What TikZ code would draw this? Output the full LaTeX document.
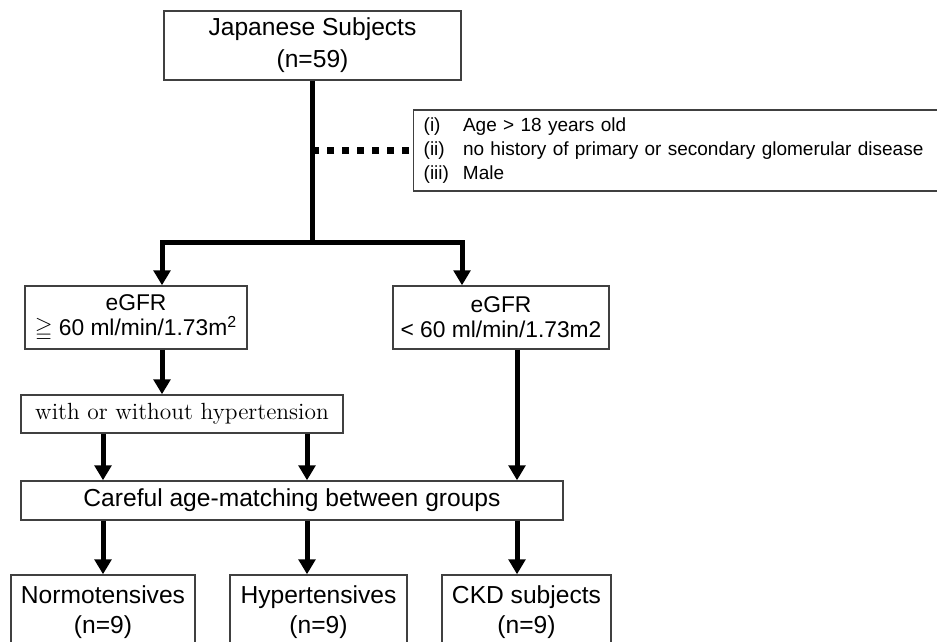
\documentclass[tikz,border=0pt]{standalone}
\usepackage{amssymb}
\usepackage{fontspec}
\setsansfont{Liberation Sans}
\usetikzlibrary{arrows.meta, positioning}

\begin{document}
\begin{tikzpicture}[x=0.5pt, y=-0.5pt,
  box/.style={draw=black!75, line width=0.7pt, inner sep=0pt, align=center,
    font=\sffamily\fontsize{12.3}{15}\selectfont},
  rate/.style={box, minimum height=31.5pt, font=\sffamily\fontsize{11.4}{12.5}\selectfont},
  link/.style={line width=2.5pt},
  arr/.style={link, -{Triangle[width=8.3pt, length=7.5pt]}},
  dotline/.style={line width=3.5pt, dash pattern=on 3.6pt off 3.9pt, dash phase=5.6pt}]

\useasboundingbox (0,0) rectangle (937,642);
\clip (0,0) rectangle (937,642);

% boxes
\node[box, minimum width=148.5pt, minimum height=34.5pt, font=\sffamily\fontsize{12.3}{16}\selectfont] (subj) at (312.5,45.5)
  {Japanese Subjects\\(n=59)};
\node[box, anchor=west, minimum height=40.5pt, text width=264pt, inner xsep=5pt, align=left,
  font=\sffamily\fontsize{9.5}{12}\selectfont] (crit) at (413,150.5)
  {\raisebox{-1.5pt}{\begin{tabular}{@{}l@{\hspace{7pt}}l@{}}
   (i) & Age > 18 years old\\
   (ii) & no history of primary or secondary glomerular disease\\
   (iii) & Male
   \end{tabular}}};

\node[rate, minimum width=111pt] (egfrA) at (136,317.5) {eGFR\\$\geqq$ 60 ml/min/1.73m\textsuperscript{2}};
\node[rate, minimum width=108pt] (egfrB) at (501,317.5) {eGFR\\< 60 ml/min/1.73m2};

\node[box, minimum width=161pt, minimum height=19pt, font=\rmfamily\fontsize{11.7}{14}\selectfont] (htn) at (182,414)
  {with or without hypertension};
\node[box, minimum width=271pt, minimum height=19.5pt] (care) at (292,500.5) {Careful age-matching between groups};

\node[box, minimum width=92pt, minimum height=37pt] (normo) at (103,612) {Normotensives\\(n=9)};
\node[box, minimum width=88.5pt, minimum height=37pt] (hyper) at (318.5,612) {Hypertensives\\(n=9)};
\node[box, minimum width=84.5pt, minimum height=37pt] (ckd) at (526.5,612) {CKD subjects\\(n=9)};

% connectors
\coordinate (split) at (312.5,242);
\draw[link] (subj) -- (split);
\draw[dotline] (crit.west) -- (crit.west -| subj.south);
\draw[arr] (split) -| ([xshift=13pt]egfrA.north);
\draw[arr] (split) -| ([xshift=-19.5pt]egfrB.north);

\draw[arr] ([xshift=13pt]egfrA.south) -- ([xshift=13pt]egfrA.south |- htn.north);
\draw[arr] ([xshift=-39.5pt]htn.south) -- ([xshift=-39.5pt]htn.south |- care.north);
\draw[arr] ([xshift=62.5pt]htn.south) -- ([xshift=62.5pt]htn.south |- care.north);
\draw[arr] ([xshift=8pt]egfrB.south) -- ([xshift=8pt]egfrB.south |- care.north);

\draw[arr] (care.south -| normo.north) -- (normo.north);
\draw[arr] ([xshift=7.5pt]care.south) -- ([xshift=7.5pt]care.south |- hyper.north);
\draw[arr] ([xshift=112.5pt]care.south) -- ([xshift=112.5pt]care.south |- ckd.north);

\end{tikzpicture}
\end{document}
